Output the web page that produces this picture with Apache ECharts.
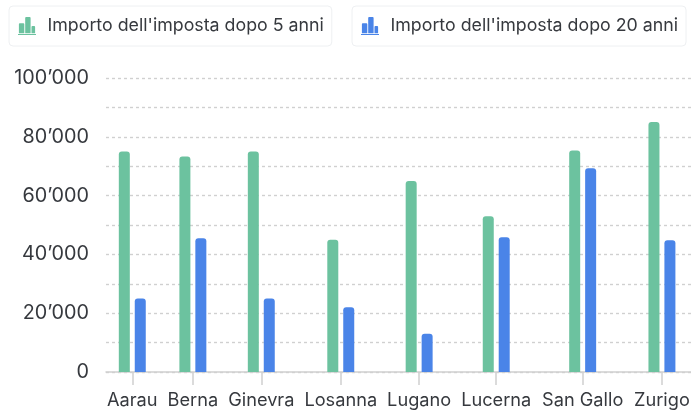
<!DOCTYPE html>
<html>
<head>
<meta charset="utf-8">
<style>html,body{margin:0;padding:0;background:#fff}#chart{width:691px;height:410px}</style>
<script src="https://cdn.jsdelivr.net/npm/echarts@6/dist/echarts.min.js"></script>
</head>
<body>
<div id="chart"></div>
<script>
const cities = ['Aarau', 'Berna', 'Ginevra', 'Losanna', 'Lugano', 'Lucerna', 'San Gallo', 'Zurigo'];
const after5 = [75000, 73300, 75000, 45000, 65000, 53000, 75300, 85000];
const after20 = [25000, 45500, 25000, 22000, 13000, 45800, 69300, 44800];
const name5 = "Importo dell'imposta dopo 5 anni";
const name20 = "Importo dell'imposta dopo 20 anni";

const fontFamily = 'Inter, "Noto Sans", sans-serif';
const textColor = '#36393e';
const labelSize = 18.2;

// Each city gets a slot as wide as its label, so the groups sit unevenly along the axis.
const ctx = document.createElement('canvas').getContext('2d');
ctx.font = labelSize + 'px ' + fontFamily;
const slotGap = 10;
const wordSpace = 1.5;
let cursor = 1;
const centres = cities.map(c => {
  const w = ctx.measureText(c).width + (c.split(' ').length - 1) * wordSpace;
  const mid = cursor + w / 2;
  cursor += w + slotGap;
  return mid;
});
const nameAt = v => cities[centres.findIndex(x => Math.abs(x - v) < 0.5)] || '';

const barIcon = 'path://M0,20 L0,19 L20,19 L20,20 Z M1,18 L1,8 Q1,7 2,7 L6,7 Q7,7 7,8 L7,18 Z M8,18 L8,1 Q8,0 9,0 L13,0 Q14,0 14,1 L14,18 Z M15,18 L15,11 Q15,10 16,10 L18,10 Q19,10 19,11 L19,18 Z';

const legendBox = {
  top: 6, padding: [11, 8, 11, 9], icon: barIcon, itemWidth: 19, itemHeight: 18, itemGap: 0,
  borderColor: '#eef0f2', borderWidth: 1, borderRadius: 4,
  selectedMode: false,
  textStyle: { fontFamily, fontSize: 17.8, color: textColor, padding: [0, 0, 0, 6] }
};

const barSeries = (name, values, color) => ({
  name, type: 'bar', barWidth: 11, barGap: '45%',
  data: values.map((v, i) => [centres[i], v]),
  itemStyle: { color, borderRadius: [3, 3, 0, 0] }
});

const chart = echarts.init(document.getElementById('chart'), null, { renderer: 'canvas' });
chart.setOption({
  backgroundColor: '#fff',
  animation: false,
  legend: [
    Object.assign({}, legendBox, { left: 9, data: [name5] }),
    Object.assign({}, legendBox, { left: 352, data: [name20] })
  ],
  grid: { left: 106, right: 0, top: 78, bottom: 38, outerBoundsMode: 'none' },
  xAxis: {
    type: 'value', min: 0, max: 585,
    splitLine: { show: false },
    axisLine: { show: true, lineStyle: { color: '#cfcfcf', width: 1.5 } },
    axisTick: { show: true, length: 13, customValues: centres, lineStyle: { color: '#cfcfcf', width: 1.5 } },
    axisLabel: {
      customValues: centres, margin: 20, formatter: nameAt, hideOverlap: false,
      fontFamily, fontSize: labelSize, color: textColor
    }
  },
  yAxis: {
    type: 'value', min: 0, max: 100000, interval: 10000,
    axisLine: { show: false }, axisTick: { show: false },
    splitLine: { lineStyle: { color: '#d0d0d0', type: [3, 3], width: 1.4 } },
    axisLabel: {
      margin: 17, fontFamily, fontSize: 19.8, color: textColor,
      formatter: v => v % 20000 ? '' : String(v).replace(/(\d)(?=\d{3}$)/, '$1’')
    }
  },
  series: [barSeries(name5, after5, '#6cc29f'), barSeries(name20, after20, '#4a84e8')]
});
</script>
</body>
</html>
